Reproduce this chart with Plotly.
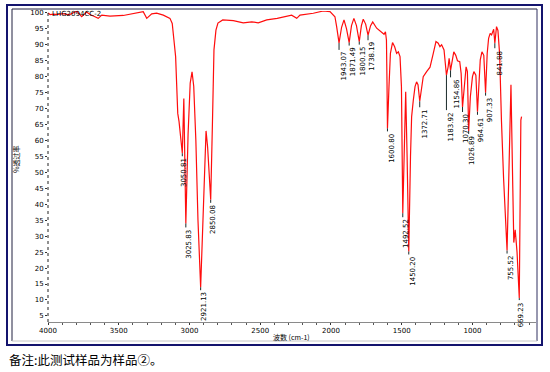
import plotly.graph_objects as go

# ---- spectrum data (wavenumber cm-1, %T) ----
wavenumber = [4000, 3985, 3960, 3930, 3895, 3850, 3797, 3762, 3727, 3703, 3668, 3645,
              3620, 3562, 3468, 3397, 3327, 3302, 3267, 3232, 3185, 3138, 3122, 3110,
              3098, 3091, 3083, 3074, 3050.81, 3040, 3025.83, 3010, 2995, 2982, 2970,
              2955, 2940, 2921.13, 2905, 2893, 2883, 2872, 2850.08, 2838, 2832, 2827,
              2813, 2799, 2765, 2690, 2620, 2560, 2514, 2454, 2380, 2313, 2278, 2242,
              2219, 2125, 2054, 2007, 1972, 1960, 1943.07, 1925, 1908, 1890, 1871.49,
              1855, 1838, 1820, 1800.15, 1785, 1772, 1755, 1738.19, 1720, 1705, 1677,
              1642, 1625, 1615, 1608, 1604, 1600.80, 1590, 1580, 1565, 1550, 1536, 1524,
              1512, 1502, 1492.52, 1483, 1472, 1462, 1450.20, 1438, 1430, 1418, 1406,
              1395, 1385, 1372.71, 1360, 1348, 1324, 1300, 1277, 1258, 1242, 1230, 1218,
              1201, 1192, 1183.92, 1172, 1165, 1154.86, 1140, 1132, 1118, 1106, 1090,
              1080, 1070.30, 1058, 1045, 1036, 1026.89, 1015, 1000, 990, 976, 964.61,
              955, 945, 933, 920, 907.33, 896, 886, 875, 865, 857, 850, 841.88, 830,
              820, 808, 795, 780, 755.52, 742, 728, 715, 708, 698, 685, 669.23, 662,
              658, 653]
transmittance = [100.0, 99.5, 99.6, 99.5, 99.8, 99.4, 100.6, 98.8, 100.3, 99.5, 98.8, 98.3,
                 99.3, 99.0, 99.2, 99.9, 100.4, 98.3, 99.7, 99.9, 99.3, 98.3, 96.7, 91.5,
                 86.3, 78.0, 68.5, 66.0, 56.0, 73.2, 34.0, 62.0, 78.0, 81.5, 77.0,
                 60.0, 35.0, 14.0, 35.0, 55.0, 63.0, 58.0, 41.4, 65.0, 76.9, 88.4,
                 94.6, 96.8, 97.8, 97.6, 96.9, 97.2, 96.9, 97.8, 98.3, 98.8, 99.3, 98.3,
                 99.3, 99.9, 100.6, 100.4, 98.8, 95.7, 90.6, 95.5, 97.8, 95.0, 90.7,
                 96.0, 98.3, 96.0, 91.0, 96.0, 98.0, 96.5, 93.0, 96.0, 97.2, 95.2,
                 93.9, 93.3, 94.1, 91.5, 78.0, 63.8, 76.9, 87.3, 90.7, 89.4, 87.3, 87.8,
                 86.3, 76.9, 37.2, 60.0, 75.3, 55.0, 25.2, 55.0, 67.5, 72.7, 76.9,
                 78.4, 77.5, 72.3, 77.0, 80.0, 81.6, 83.0, 87.3, 91.0, 90.5, 89.4, 90.0,
                 88.4, 84.2, 80.5, 83.1, 85.8, 82.0, 86.0, 87.8, 86.7, 85.0, 84.7,
                 81.0, 70.5, 77.9, 83.1, 81.6, 63.0, 73.7, 80.0, 81.6, 80.5, 69.0,
                 76.9, 85.3, 87.8, 86.7, 75.0, 87.3, 92.0, 93.6, 93.1, 94.1, 94.9, 90.5, 95.7,
                 94.5, 87.0, 66.0, 48.0, 25.5, 55.0, 77.5, 45.0, 28.0, 32.0, 25.0, 10.6, 60.0,
                 66.4, 67.5]

# ---- labelled peaks ----
peak_wn = [3050.81, 3025.83, 2921.13, 2850.08, 1943.07, 1871.49, 1800.15, 1738.19,
           1600.80, 1492.52, 1450.20, 1372.71, 1183.92, 1154.86, 1070.30, 1026.89,
           964.61, 907.33, 841.88, 755.52, 669.23]
peak_t = [56.0, 34.0, 14.0, 41.4, 90.6, 90.7, 91.0, 93.0,
          63.8, 37.2, 25.2, 72.3, 80.5, 82.0, 70.5, 63.0,
          69.0, 75.0, 90.5, 25.5, 10.6]
# label offsets in pixels (right, down) from the peak point
peak_dx = [1, 3, 3.5, 3, 5, 4, 4, 4, 4.5, 2.5, 4, 5, 4.5, 6, 3, 4, 3.5, 4.5, 5, 4, 1.5]
peak_dy = [3, 4, 3, 3, 7, 3, 3, 5, 3, 4, 3, 6, 35, 7, 5, 3, 3, 3, 5, 3, 2]

y_ticks = list(range(5, 101, 5))
x_ticks = [4000, 3500, 3000, 2500, 2000, 1500, 1000]

# ---- geometry (pixels) ----
W, H = 550, 372
PL, PR, PT, PB = 48, 536, 11, 322
Y_MIN, Y_MAX = 3.1, 100.6
X_MAX, X_MIN = 4000, 551
px_per_unit = (PB - PT) / (Y_MAX - Y_MIN)


def px_x(px):
    return (px - PL) / (PR - PL)


def px_y(py):
    return (PB - py) / (PB - PT)


fig = go.Figure()
fig.add_trace(go.Scatter(x=wavenumber, y=transmittance, mode="lines",
                         line=dict(color="#ff0d0d", width=1.2), hoverinfo="skip",
                         showlegend=False))

shapes = []
annotations = []
lab_font = dict(family="DejaVu Sans", size=7, color="#000000")
for wn, t, dx, dy in zip(peak_wn, peak_t, peak_dx, peak_dy):
    shapes.append(dict(type="line", xref="x", yref="y", x0=wn, x1=wn, y0=t,
                       y1=t - dy / px_per_unit, line=dict(color="#1a2a2a", width=1)))
    annotations.append(dict(x=wn, y=t, xref="x", yref="y", text=f"{wn:.2f}",
                            textangle=-90, showarrow=False, xanchor="center",
                            yanchor="top", xshift=dx, yshift=-dy, font=lab_font))

# dotted y-axis line
shapes.append(dict(type="line", xref="paper", yref="paper", x0=0, x1=0, y0=0, y1=1,
                   line=dict(color="#222222", width=1, dash="dot")))
# outer navy frame
shapes.append(dict(type="rect", xref="paper", yref="paper", x0=px_x(7), x1=px_x(542),
                   y0=px_y(345), y1=px_y(5), line=dict(color="#14146e", width=2),
                   layer="below"))
# inner frame
shapes.append(dict(type="line", xref="paper", yref="paper", x0=px_x(12), x1=px_x(537),
                   y0=px_y(9), y1=px_y(9), line=dict(color="#202040", width=1)))
shapes.append(dict(type="line", xref="paper", yref="paper", x0=px_x(12), x1=px_x(12),
                   y0=px_y(9), y1=px_y(341), line=dict(color="#202040", width=1)))
shapes.append(dict(type="line", xref="paper", yref="paper", x0=px_x(537), x1=px_x(537),
                   y0=px_y(9), y1=px_y(341), line=dict(color="#303060", width=1)))
shapes.append(dict(type="line", xref="paper", yref="paper", x0=px_x(12), x1=px_x(537),
                   y0=px_y(341), y1=px_y(341), line=dict(color="#c8c8c8", width=1)))

small = dict(family="DejaVu Sans", size=7, color="#000000")
annotations.append(dict(xref="paper", yref="paper", x=px_x(50), y=px_y(14),
                        text="LHG2094CC-2", showarrow=False, xanchor="left",
                        yanchor="middle", font=small))
annotations.append(dict(xref="paper", yref="paper", x=px_x(16), y=px_y(160),
                        text="%透过率", textangle=-90, showarrow=False,
                        xanchor="center", yanchor="middle",
                        font=dict(family="Noto Sans CJK SC", size=7, color="#000000")))
annotations.append(dict(xref="paper", yref="paper", x=px_x(291), y=px_y(337),
                        text="波数 (cm-1)", showarrow=False, xanchor="center",
                        yanchor="middle",
                        font=dict(family="Noto Sans CJK SC", size=7, color="#000000")))
annotations.append(dict(xref="paper", yref="paper", x=px_x(7), y=px_y(359),
                        text="备注:此测试样品为样品②。", showarrow=False,
                        xanchor="left", yanchor="middle",
                        font=dict(family="Noto Sans CJK SC", size=12.5, color="#000000")))

fig.update_layout(
    width=W, height=H, autosize=False,
    margin=dict(l=PL, r=W - PR, t=PT, b=H - PB, pad=0, autoexpand=False),
    paper_bgcolor="white", plot_bgcolor="white",
    shapes=shapes, annotations=annotations,
    xaxis=dict(range=[X_MAX, X_MIN], tickvals=x_ticks, ticktext=[str(v) for v in x_ticks],
               showgrid=False, zeroline=False, showline=True, linecolor="#8a8a8a",
               linewidth=1, ticks="outside", ticklen=2, tickcolor="#333333",
               tickfont=small, automargin=False,
               minor=dict(dtick=100, tick0=0, ticks="outside", ticklen=2,
                          tickcolor="#555555")),
    yaxis=dict(range=[Y_MIN, Y_MAX], tickvals=y_ticks, showgrid=False, zeroline=False,
               showline=False, ticks="outside", ticklen=2, tickcolor="#333333",
               tickfont=small, automargin=False),
)

fig.write_html("out.html",
               config={"displayModeBar": False, "staticPlot": True},
               post_script="document.body.style.margin='0';"
                           "document.body.style.padding='0';"
                           "document.body.style.overflow='hidden';")
